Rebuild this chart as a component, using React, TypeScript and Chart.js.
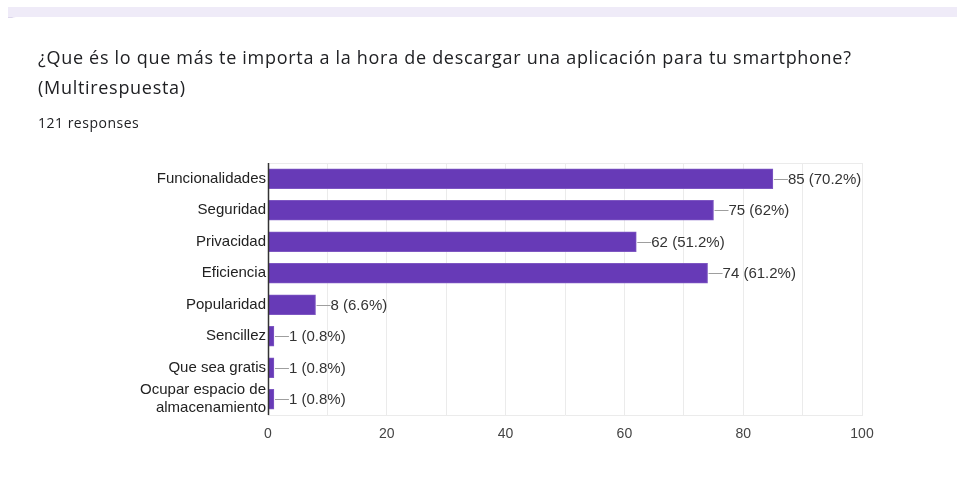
import React, { useEffect, useRef } from "react";
import { Chart, registerables } from "chart.js";

Chart.register(...registerables);

const TITLE = "¿Que és lo que más te importa a la hora de descargar una aplicación para tu smartphone?";
const SUBTITLE = "(Multirespuesta)";
const TOTAL_RESPONSES = 121;

const categories: (string | string[])[] = [
  "Funcionalidades",
  "Seguridad",
  "Privacidad",
  "Eficiencia",
  "Popularidad",
  "Sencillez",
  "Que sea gratis",
  ["Ocupar espacio de", "almacenamiento"],
];
const counts = [85, 75, 62, 74, 8, 1, 1, 1];
const xTicks = [0, 20, 40, 60, 80, 100];

const FONT = "'Liberation Sans', Arial, sans-serif";

const valueLabels = {
  id: "valueLabels",
  afterDatasetsDraw(chart: any) {
    const ctx = chart.ctx;
    const meta = chart.getDatasetMeta(0);
    ctx.save();
    ctx.font = `15px ${FONT}`;
    ctx.textBaseline = "middle";
    ctx.textAlign = "left";
    meta.data.forEach((bar: any, i: number) => {
      const v = counts[i];
      const pct = parseFloat(((v / TOTAL_RESPONSES) * 100).toFixed(1));
      const x = bar.x;
      const y = bar.y;
      ctx.strokeStyle = "#9e9e9e";
      ctx.lineWidth = 1;
      ctx.beginPath();
      ctx.moveTo(x + 1, Math.round(y) + 0.5);
      ctx.lineTo(x + 15, Math.round(y) + 0.5);
      ctx.stroke();
      ctx.fillStyle = "#333333";
      ctx.fillText(`${v} (${pct}%)`, x + 15, y + 1);
    });
    ctx.restore();
  },
};

const frame = {
  id: "frame",
  beforeDatasetsDraw(chart: any) {
    const { ctx, chartArea } = chart;
    ctx.save();
    ctx.strokeStyle = "#ebebeb";
    ctx.lineWidth = 1;
    ctx.beginPath();
    ctx.moveTo(chartArea.left, Math.round(chartArea.top) + 0.5);
    ctx.lineTo(chartArea.right, Math.round(chartArea.top) + 0.5);
    ctx.stroke();
    ctx.restore();
  },
  afterDatasetsDraw(chart: any) {
    const { ctx, chartArea } = chart;
    ctx.save();
    ctx.strokeStyle = "#333333";
    ctx.lineWidth = 1.5;
    ctx.beginPath();
    ctx.moveTo(Math.round(chartArea.left) + 0.5, chartArea.top);
    ctx.lineTo(Math.round(chartArea.left) + 0.5, chartArea.bottom);
    ctx.stroke();
    ctx.restore();
  },
};

function BarChart() {
  const ref = useRef<HTMLCanvasElement>(null);
  useEffect(() => {
    if (!ref.current) return;
    const chart = new Chart(ref.current, {
      type: "bar",
      data: {
        labels: categories,
        datasets: [
          {
            data: counts,
            backgroundColor: "#673ab7",
            borderColor: "#7e57c2",
            borderWidth: 1,
            barThickness: 20,
          },
        ],
      },
      options: {
        indexAxis: "y",
        animation: false,
        responsive: false,
        devicePixelRatio: 1,
        layout: { padding: { top: 4, right: 46, bottom: 0, left: 0 } },
        plugins: { legend: { display: false }, tooltip: { enabled: false } },
        scales: {
          x: {
            min: 0,
            max: 100,
            ticks: {
              stepSize: 10,
              autoSkip: false,
              maxRotation: 0,
              color: "#444444",
              font: { family: FONT, size: 14 },
              padding: 11,
              callback: (v: any) => (xTicks.includes(Number(v)) ? String(v) : ""),
            },
            grid: { color: "#ebebeb", drawTicks: false },
            border: { display: true, color: "#ebebeb" },
            afterFit: (s: any) => {
              s.height = 35;
            },
          },
          y: {
            ticks: {
              color: "#222222",
              font: { family: FONT, size: 15, lineHeight: 1.2 },
              padding: 2,
              autoSkip: false,
            },
            grid: { display: false, drawTicks: false },
            border: { display: false },
            afterFit: (s: any) => {
              s.width = 260;
            },
          },
        },
      },
      plugins: [frame, valueLabels],
    });
    return () => chart.destroy();
  }, []);
  return (
    <canvas
      ref={ref}
      width={900}
      height={307}
      style={{ position: "absolute", left: 0, top: 136, width: 900, height: 307 }}
    />
  );
}

export default function App() {
  return (
    <div style={{ position: "relative", width: 949, height: 472, marginTop: -1 }}>
      <div
        style={{
          position: "fixed",
          left: 8,
          right: 0,
          top: 7,
          height: 10,
          background: "#efebf8",
          borderBottom: "1px solid #dcd6ec",
        }}
      />
      <div
        style={{
          position: "fixed",
          left: 8,
          right: 0,
          top: 17,
          height: 471,
          background: "#ffffff",
          borderTopLeftRadius: 8,
        }}
      />
      <div
        style={{
          position: "absolute",
          left: 30,
          top: 35,
          fontFamily: "'Open Sans', sans-serif",
          fontSize: 18,
          letterSpacing: 0.7,
          lineHeight: "30px",
          color: "#202124",
          whiteSpace: "nowrap",
        }}
      >
        {TITLE}
        <br />
        {SUBTITLE}
      </div>
      <div
        style={{
          position: "absolute",
          left: 30,
          top: 106,
          fontFamily: "'Open Sans', sans-serif",
          fontSize: 14,
          letterSpacing: 0.5,
          color: "#202124",
        }}
      >
        {TOTAL_RESPONSES} responses
      </div>
      <BarChart />
    </div>
  );
}
